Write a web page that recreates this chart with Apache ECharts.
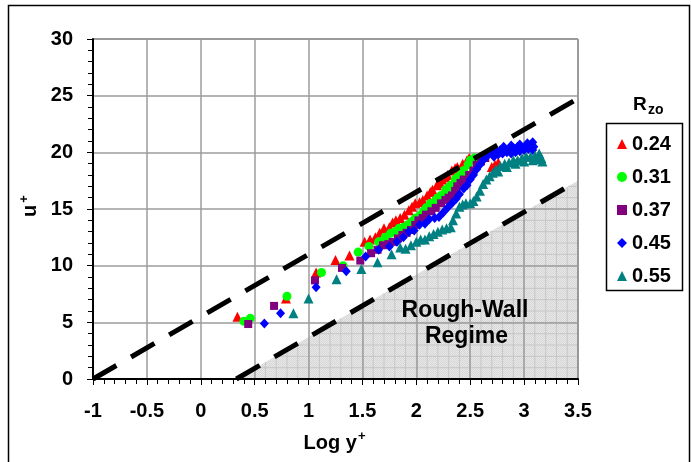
<!DOCTYPE html>
<html>
<head>
<meta charset="utf-8">
<script src="https://cdn.jsdelivr.net/npm/echarts@6/dist/echarts.min.js"></script>
<style>
  html, body { margin: 0; padding: 0; background: #fff; }
  #chart { width: 692px; height: 462px; }
</style>
</head>
<body>
<div id="chart"></div>
<script>
// Roughness ratio of each data set (legend entries)
const rzoLabels = ['0.24', '0.31', '0.37', '0.45', '0.55'];

// Velocity profiles: [log y+, u+]
const rzo024 = [
  [0.34, 5.5], [0.79, 7.1], [1.07, 9.4], [1.25, 10.5], [1.38, 10.9],
  [1.52, 12.1], [1.57, 12.3], [1.62, 12.5], [1.66, 12.9], [1.70, 13.3],
  [1.75, 13.4], [1.78, 13.8], [1.81, 14.0], [1.85, 14.2], [1.89, 14.5],
  [1.93, 14.9], [1.96, 15.2], [1.99, 15.5], [2.03, 15.6], [2.06, 15.8],
  [2.10, 16.2], [2.13, 16.5], [2.15, 16.7], [2.19, 17.1], [2.22, 17.3],
  [2.24, 17.6], [2.27, 17.8], [2.29, 18.0], [2.33, 18.4], [2.36, 18.6],
  [2.38, 18.7], [2.43, 19.0], [2.47, 19.3], [2.49, 19.5], [2.70, 18.7],
  [2.73, 18.9], [2.76, 19.1]
];
const rzo031 = [
  [0.40, 5.1], [0.46, 5.35], [0.80, 7.3], [1.12, 9.4], [1.32, 10.0],
  [1.46, 11.2], [1.56, 11.7], [1.65, 12.1], [1.71, 12.5], [1.76, 12.85],
  [1.80, 13.0], [1.84, 13.3], [1.88, 13.4], [1.92, 13.6], [1.96, 13.9],
  [1.99, 14.2], [2.04, 14.5], [2.07, 14.8], [2.09, 15.1], [2.13, 15.5],
  [2.18, 15.8], [2.20, 16.0], [2.23, 16.2], [2.27, 16.7], [2.30, 16.9],
  [2.32, 17.1], [2.36, 17.6], [2.38, 17.8], [2.41, 18.0], [2.44, 18.4],
  [2.48, 18.9], [2.50, 19.3], [2.54, 19.5]
];
const rzo037 = [
  [0.44, 4.85], [0.68, 6.45], [1.06, 8.7], [1.31, 9.8], [1.48, 10.45],
  [1.58, 11.1], [1.64, 11.4], [1.69, 11.8], [1.74, 11.9], [1.78, 12.1],
  [1.83, 12.4], [1.87, 12.7], [1.91, 12.9], [1.95, 13.15], [1.99, 13.6],
  [2.02, 14.0], [2.06, 14.2], [2.09, 14.5], [2.14, 14.8], [2.18, 15.1],
  [2.23, 15.5], [2.27, 15.8], [2.30, 16.0], [2.33, 16.2], [2.36, 16.6],
  [2.38, 17.0], [2.41, 17.3], [2.44, 17.6], [2.49, 18.0], [2.53, 18.4],
  [2.56, 18.9], [2.60, 19.2], [2.64, 19.5]
];
const rzo045 = [
  [0.59, 4.9], [0.74, 5.8], [1.07, 8.1], [1.35, 9.5], [1.53, 10.8],
  [1.65, 11.4], [1.75, 11.7], [1.82, 12.1], [1.88, 12.5], [1.93, 13.0],
  [1.98, 13.1], [2.03, 13.6], [2.08, 13.7], [2.12, 14.1], [2.17, 14.2],
  [2.21, 14.3], [2.25, 14.7], [2.29, 15.1], [2.33, 15.5], [2.37, 15.9],
  [2.40, 16.3], [2.44, 16.8], [2.47, 17.1], [2.50, 17.6], [2.53, 18.0],
  [2.56, 18.5], [2.59, 18.9], [2.62, 19.3], [2.66, 19.7], [2.70, 19.9],
  [2.74, 20.1], [2.78, 20.2], [2.82, 20.3], [2.86, 20.2], [2.90, 20.4],
  [2.94, 20.5], [2.98, 20.4], [3.02, 20.6], [3.06, 20.7], [3.09, 20.5],
  [2.72, 19.6], [2.76, 19.8], [2.80, 19.9], [2.84, 20.0], [2.88, 19.9],
  [2.92, 20.0], [2.96, 20.1], [3.00, 20.2], [3.04, 20.3], [3.08, 20.2],
  [2.81, 20.5], [2.88, 20.6], [2.96, 20.7], [3.03, 20.8], [3.08, 20.9]
];
const rzo055 = [
  [0.86, 5.8], [1.00, 7.1], [1.26, 8.8], [1.49, 9.7], [1.64, 10.3],
  [1.77, 11.0], [1.85, 11.6], [1.90, 11.5], [1.95, 11.8], [2.00, 12.1],
  [2.04, 12.3], [2.08, 12.3], [2.12, 12.6], [2.16, 12.8], [2.20, 13.0],
  [2.24, 13.2], [2.28, 13.3], [2.32, 13.4], [2.34, 14.0], [2.37, 14.6],
  [2.40, 15.2], [2.43, 15.4], [2.46, 15.5], [2.50, 15.5], [2.53, 15.7],
  [2.56, 16.1], [2.59, 16.6], [2.62, 17.2], [2.65, 17.6], [2.68, 17.9],
  [2.71, 18.2], [2.74, 18.5], [2.78, 18.8], [2.82, 19.0], [2.86, 19.1],
  [2.90, 19.3], [2.94, 19.3], [2.98, 19.5], [3.02, 19.6], [3.06, 19.6],
  [3.10, 19.7], [3.14, 19.9], [3.16, 19.5], [3.17, 19.2],
  [2.76, 18.3], [2.84, 18.7], [2.92, 19.0], [3.00, 19.2], [3.08, 19.3],
  [3.12, 19.4]
];

// Reference log-law lines (smooth-wall upper bound, rough-wall boundary)
const upperLaw = [[-1, 0], [3.5, 24.75]];
const lowerLaw = [[0.33, 0], [3.5, 17.5]];

const FONT = '"Liberation Sans", Arial, sans-serif';
const chart = echarts.init(document.getElementById('chart'), null, { renderer: 'canvas' });

// fine dotted texture for the rough-wall regime
const tex = document.createElement('canvas');
tex.width = 2; tex.height = 2;
const tg = tex.getContext('2d');
tg.fillStyle = '#e8e8e8'; tg.fillRect(0, 0, 2, 2);
tg.fillStyle = '#d6d6d6'; tg.fillRect(0, 0, 1, 1); tg.fillRect(1, 1, 1, 1);

function roughRegion(params, api) {
  const [x0, y0] = lowerLaw[0];
  const [x1, y1] = lowerLaw[1];
  const edgeY = x => y0 + (y1 - y0) * (x - x0) / (x1 - x0);
  const edgeX = y => x0 + (x1 - x0) * (y - y0) / (y1 - y0);
  const children = [{
    type: 'polygon',
    shape: { points: [api.coord([x0, y0]), api.coord([x1, y1]), api.coord([x1, 0])] },
    style: { fill: { image: tex, repeat: 'repeat' } }
  }];
  for (let i = Math.ceil(x0 * 10 + 1e-6); i < x1 * 10 - 1e-6; i++) {
    const x = i / 10;
    const a = api.coord([x, 0]), b = api.coord([x, edgeY(x)]);
    children.push({ type: 'line', shape: { x1: a[0], y1: a[1], x2: b[0], y2: b[1] },
      style: { stroke: '#c6c6c6', lineWidth: 1 } });
  }
  for (let j = 1; j < y1; j++) {
    const a = api.coord([edgeX(j), j]), b = api.coord([x1, j]);
    children.push({ type: 'line', shape: { x1: a[0], y1: a[1], x2: b[0], y2: b[1] },
      style: { stroke: '#c6c6c6', lineWidth: 1 } });
  }
  return { type: 'group', children };
}

const markers = [
  { data: rzo024, symbol: 'triangle', size: 10, color: '#ff0000' },
  { data: rzo031, symbol: 'circle', size: 9, color: '#00ff00' },
  { data: rzo037, symbol: 'rect', size: 8, color: '#800080' },
  { data: rzo045, symbol: 'diamond', size: [9, 10], color: '#0000ff' },
  { data: rzo055, symbol: 'triangle', size: 10, color: '#008080' }
];

const axisCommon = {
  type: 'value',
  axisLine: { show: true, onZero: false, lineStyle: { color: '#000', width: 2 } },
  axisTick: { show: true, inside: false, length: 6, lineStyle: { color: '#000', width: 1 } },
  minorTick: { show: true, splitNumber: 5, length: 5, lineStyle: { color: '#000', width: 1 } },
  splitLine: { show: true, lineStyle: { color: '#9c9c9c', width: 1.5 } },
  minorSplitLine: { show: false },
  axisLabel: { color: '#000', fontSize: 20, fontWeight: 'bold', fontFamily: FONT,
               showMinLabel: true, showMaxLabel: true }
};

const option = {
  backgroundColor: '#fff',
  animation: false,
  grid: { left: 93, top: 39, width: 485, height: 340, show: true,
          borderColor: '#333', borderWidth: 1, backgroundColor: 'transparent' },
  xAxis: Object.assign({}, axisCommon, {
    min: -1, max: 3.5, interval: 0.5,
    axisLabel: Object.assign({}, axisCommon.axisLabel, { margin: 22 })
  }),
  yAxis: Object.assign({}, axisCommon, {
    min: 0, max: 30, interval: 5,
    axisLabel: Object.assign({}, axisCommon.axisLabel, { margin: 20 })
  }),
  legend: {
    orient: 'vertical', left: 617, top: 134, padding: 0,
    itemWidth: 10, itemHeight: 10, itemGap: 13,
    selectedMode: false,
    textStyle: { color: '#000', fontSize: 20, fontWeight: 'bold', fontFamily: FONT },
    data: rzoLabels
  },
  series: [
    {
      type: 'custom', z: -1, silent: true,
      renderItem: roughRegion, data: [[0, 0]], clip: true
    },
    ...markers.map((m, i) => ({
      name: rzoLabels[i], type: 'scatter', data: m.data,
      symbol: m.symbol, symbolSize: m.size,
      itemStyle: { color: m.color, opacity: 1 }, z: 2
    })),
    ...[upperLaw, lowerLaw].map(d => ({
      type: 'line', data: d, symbol: 'none', z: 4, silent: true,
      lineStyle: { color: '#000', width: 5, type: [27, 17], cap: 'butt' }
    }))
  ],
  graphic: [
    { type: 'rect', shape: { x: 8.5, y: 5.5, width: 681, height: 500 },
      style: { fill: 'none', stroke: '#000', lineWidth: 1.5 }, silent: true },
    { type: 'rect', shape: { x: 606.5, y: 123.5, width: 76, height: 167 },
      style: { fill: 'none', stroke: '#000', lineWidth: 1.5 }, silent: true },
    { type: 'text', x: 633, y: 105, style: { text: 'R', font: 'bold 19px ' + FONT,
      fill: '#000', textAlign: 'left', textVerticalAlign: 'middle' } },
    { type: 'text', x: 648, y: 110, style: { text: 'zo', font: 'bold 14px ' + FONT,
      fill: '#000', textAlign: 'left', textVerticalAlign: 'middle' } },
    { type: 'text', x: 303.5, y: 443, style: { text: 'Log y', font: 'bold 20px ' + FONT,
      fill: '#000', textAlign: 'left', textVerticalAlign: 'middle' } },
    { type: 'text', x: 358, y: 436, style: { text: '+', font: 'bold 13px ' + FONT,
      fill: '#000', textAlign: 'left', textVerticalAlign: 'middle' } },
    { type: 'text', x: 30.6, y: 217, rotation: Math.PI / 2,
      style: { text: 'u', font: 'bold 20px ' + FONT, fill: '#000',
               textAlign: 'left', textVerticalAlign: 'middle' } },
    { type: 'text', x: 24.5, y: 199, rotation: Math.PI / 2,
      style: { text: '+', font: 'bold 13px ' + FONT, fill: '#000',
               textAlign: 'center', textVerticalAlign: 'middle' } },
    { type: 'text', x: 465, y: 310.5, z: 10, style: { text: 'Rough-Wall', font: 'bold 23px ' + FONT,
      fill: '#000', textAlign: 'center', textVerticalAlign: 'middle' } },
    { type: 'text', x: 466.5, y: 337, z: 10, style: { text: 'Regime', font: 'bold 23px ' + FONT,
      fill: '#000', textAlign: 'center', textVerticalAlign: 'middle' } }
  ]
};

chart.setOption(option);
</script>
</body>
</html>
